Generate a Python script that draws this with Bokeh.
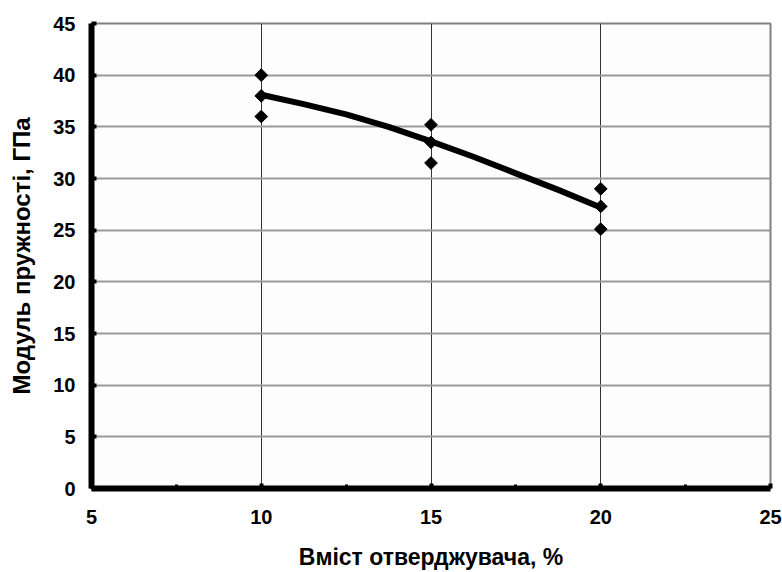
import math
from bokeh.plotting import figure
from bokeh.models import Range1d, FixedTicker
from bokeh.embed import file_html
from bokeh.resources import INLINE

# measured points
point_x = [10, 10, 10, 15, 15, 15, 20, 20, 20]
point_y = [40.0, 38.0, 36.0, 35.2, 33.5, 31.5, 29.0, 27.3, 25.1]

# trend curve
curve_x = [10, 11.25, 12.5, 13.75, 15, 16.25, 17.5, 18.75, 20]
curve_y = [38.1, 37.2, 36.2, 35.0, 33.6, 32.1, 30.5, 28.9, 27.2]

x_ticks = [5, 10, 15, 20, 25]
y_ticks = [0, 5, 10, 15, 20, 25, 30, 35, 40, 45]
x_grid = [10, 15, 20]

x_title = "Вміст отверджувача, %"
y_title = "Модуль пружності, ГПа"

FONT = "Liberation Sans"

p = figure(width=782, height=572, output_backend="svg", toolbar_location=None,
           x_range=Range1d(5, 25), y_range=Range1d(0, 45),
           min_border_left=91, min_border_right=12, min_border_top=23, min_border_bottom=82)
p.background_fill_color = "#fdfdfd"
p.border_fill_color = "#ffffff"
p.outline_line_color = "#808080"
p.outline_line_width = 2

# grids
p.ygrid.ticker = FixedTicker(ticks=y_ticks)
p.ygrid.grid_line_color = "#9a9a9a"
p.ygrid.grid_line_width = 2
p.xgrid.ticker = FixedTicker(ticks=x_grid)
p.xgrid.grid_line_color = "#333333"
p.xgrid.grid_line_width = 1

# axes
for ax in (p.xaxis[0], p.yaxis[0]):
    ax.axis_line_width = 6
    ax.axis_line_color = "black"
    ax.major_tick_in = 5
    ax.major_tick_out = 0
    ax.major_tick_line_width = 4
    ax.major_label_text_font = FONT
    ax.major_label_text_font_style = "bold"
    ax.major_label_text_font_size = "20px"
    ax.major_label_text_color = "black"
    ax.axis_label_text_font = FONT
    ax.axis_label_text_font_style = "bold"
    ax.axis_label_text_color = "black"

p.xaxis[0].ticker = FixedTicker(ticks=x_ticks, minor_ticks=[7.5, 12.5, 17.5, 22.5])
p.xaxis[0].minor_tick_in = 4
p.xaxis[0].minor_tick_out = 0
p.xaxis[0].minor_tick_line_width = 3
p.xaxis[0].major_label_standoff = 21
p.xaxis[0].axis_label = x_title
p.xaxis[0].axis_label_text_font_size = "23px"
p.xaxis[0].axis_label_standoff = 17

p.yaxis[0].ticker = FixedTicker(ticks=y_ticks)
p.yaxis[0].minor_tick_line_color = None
p.yaxis[0].major_label_standoff = 16
p.yaxis[0].axis_label = y_title
p.yaxis[0].axis_label_text_font_size = "24px"
p.yaxis[0].axis_label_standoff = 15

p.line(curve_x, curve_y, line_color="black", line_width=6, line_join="round")
p.scatter(point_x, point_y, marker="square", angle=math.pi / 4, size=9,
          fill_color="black", line_color="black")

open("out.html", "w").write(file_html(p, INLINE))
